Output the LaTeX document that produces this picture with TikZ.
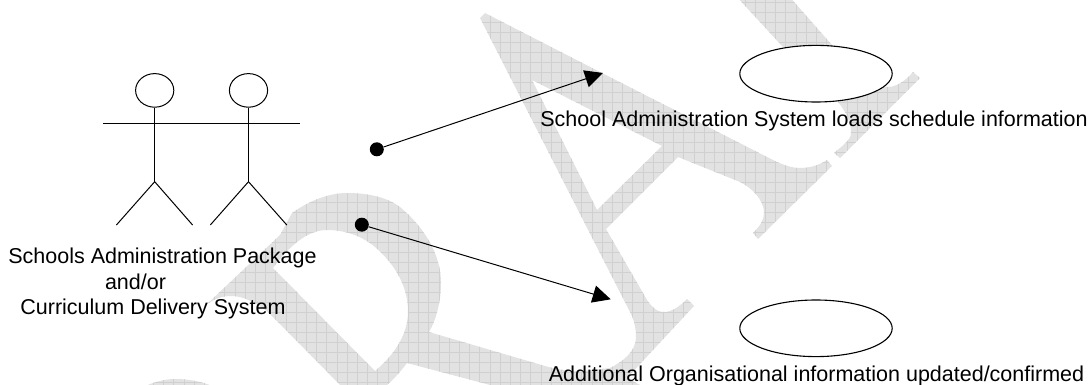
\documentclass[tikz,border=0pt]{standalone}
\usepackage{fontspec}
\setmainfont{Liberation Sans}
\usetikzlibrary{shapes.geometric,arrows.meta}
\definecolor{wmfill}{HTML}{E2E2E2}
\definecolor{wmline}{HTML}{D0D0D0}
\newcommand{\wmletter}[1]{%
  \fill[wmfill,even odd rule] #1;
  \begin{scope}[even odd rule]
    \clip #1;
    \draw[wmline,line width=0.8pt,xstep=10.2pt,ystep=10pt,shift={(0.4,2.8)}] (-20,-20) grid (1110,400);
  \end{scope}}
\tikzset{
  lbl/.style={inner sep=0pt,font=\fontsize{21.5}{25}\selectfont,text=black},
  head/.style={draw=black,line width=1pt,ellipse,inner sep=0pt,minimum width=38.2pt,minimum height=33.6pt},
  usecase/.style={draw=black,fill=white,line width=1.1pt,ellipse,inner sep=0pt,minimum width=152.4pt,minimum height=56.6pt},
  limb/.style={draw=black,line width=1pt},
  dotnode/.style={circle,fill=black,inner sep=0pt,minimum size=14pt},
  assoc/.style={draw=black,line width=1pt,-{Triangle[length=18pt,width=17.5pt]}}
}
\begin{document}
\begin{tikzpicture}[x=1pt,y=-1pt]
\useasboundingbox (0,0) rectangle (1090,385);
\begin{scope}
\clip (0,0) rectangle (1090,385);
% D
\wmletter{(135,392) .. controls (150,382) and (165,379) .. (175,379) .. controls (190,379) and (207,382) .. (225,392) -- cycle}
% R (with the counter)
\wmletter{(206,305) -- (280,235) -- (292,213) .. controls (310,200) and (330,193) .. (347,193) .. controls (370,193) and (388,198) .. (400,207) .. controls (425,228) and (441,255) .. (441,283) .. controls (441,302) and (436,320) .. (429,332) -- (545,366) .. controls (570,373) and (590,373) .. (610,368) -- (640,385) -- (640,392) -- (392,392) -- (387,385) .. controls (395,378) and (401,371) .. (407,363) -- (490,385) -- (490,392) -- (347,392) -- (268,312) .. controls (255,302) and (243,296) .. (231,296) .. controls (222,296) and (214,299) .. (206,305) -- cycle
 (273,268) .. controls (290,245) and (308,230) .. (327,230) .. controls (345,230) and (362,236) .. (375,247) .. controls (396,265) and (408,288) .. (408,311) .. controls (408,335) and (394,355) .. (375,371) -- cycle}
% A (with the counter)
\wmletter{(485,13) -- (600,72) -- (773,160) .. controls (783,165) and (792,168) .. (800,168) .. controls (808,168) and (818,166) .. (827,160) -- (832,166) -- (758,239) -- (753,233) .. controls (760,226) and (764,220) .. (764,213) .. controls (764,200) and (752,188) .. (740,182) -- (678,157) -- (606,229) -- (643,293) .. controls (650,306) and (656,312) .. (664,312) .. controls (672,312) and (680,306) .. (687,299) -- (694,306) -- (614,392) -- (560,392) -- (575,372) -- (610,368) .. controls (622,362) and (636,352) .. (636,337) .. controls (636,330) and (635,324) .. (632,316) -- (480,18) -- cycle
 (532,80) -- (662,146) -- (597,210) -- cycle}
% F
\wmletter{(735,-5) -- (782,46) -- (838,102) .. controls (846,112) and (851,122) .. (851,133) .. controls (851,140) and (842,146) .. (834,153) -- (840,158) -- (920,78) -- (913,72) .. controls (908,78) and (898,87) .. (888,87) .. controls (882,87) and (878,87) .. (875,87) -- (832,45) -- (788,-5) -- cycle}
\end{scope}
% actors
\node[head] (h1) at (154.7,90.4) {};
\node[head] (h2) at (248.5,90.4) {};
\coordinate (b1) at (154.7,181.7);
\coordinate (b2) at (248.5,181.7);
\coordinate (a1l) at (103,124);
\coordinate (a1r) at (205,124);
\coordinate (a2l) at (198,124);
\coordinate (a2r) at (299.7,124);
\coordinate (f1l) at (116.4,225);
\coordinate (f1r) at (192.6,225);
\coordinate (f2l) at (210.3,225);
\coordinate (f2r) at (286.8,225);
\draw[limb] (h1.south) -- (b1);
\draw[limb] (h2.south) -- (b2);
\draw[limb] (a1l) -- (a1r);
\draw[limb] (a2l) -- (a2r);
\draw[limb] (f1l) -- (b1) -- (f1r);
\draw[limb] (f2l) -- (b2) -- (f2r);
\node[lbl,anchor=base] (t1) at (162.5,263) {Schools Administration Package};
\node[lbl,anchor=base] (t2) at (135.5,289) {and/or};
\node[lbl,anchor=base] (t3) at (153,314) {Curriculum Delivery System};
% use cases
\node[usecase] (u1) at (816,73.7) {};
\node[usecase] (u2) at (816,328.3) {};
\node[lbl,anchor=base] (l1) at (814,127) {School Administration System loads schedule information};
\node[lbl,anchor=base] (l2) at (816.5,381) {Additional Organisational information updated/confirmed};
% associations
\node[dotnode] (d1) at (376.8,149.3) {};
\node[dotnode] (d2) at (361.8,224.7) {};
\coordinate (tip1) at (603,73);
\coordinate (tip2) at (610.7,299.3);
\draw[assoc] (d1) -- (tip1);
\draw[assoc] (d2) -- (tip2);
\end{tikzpicture}
\end{document}
